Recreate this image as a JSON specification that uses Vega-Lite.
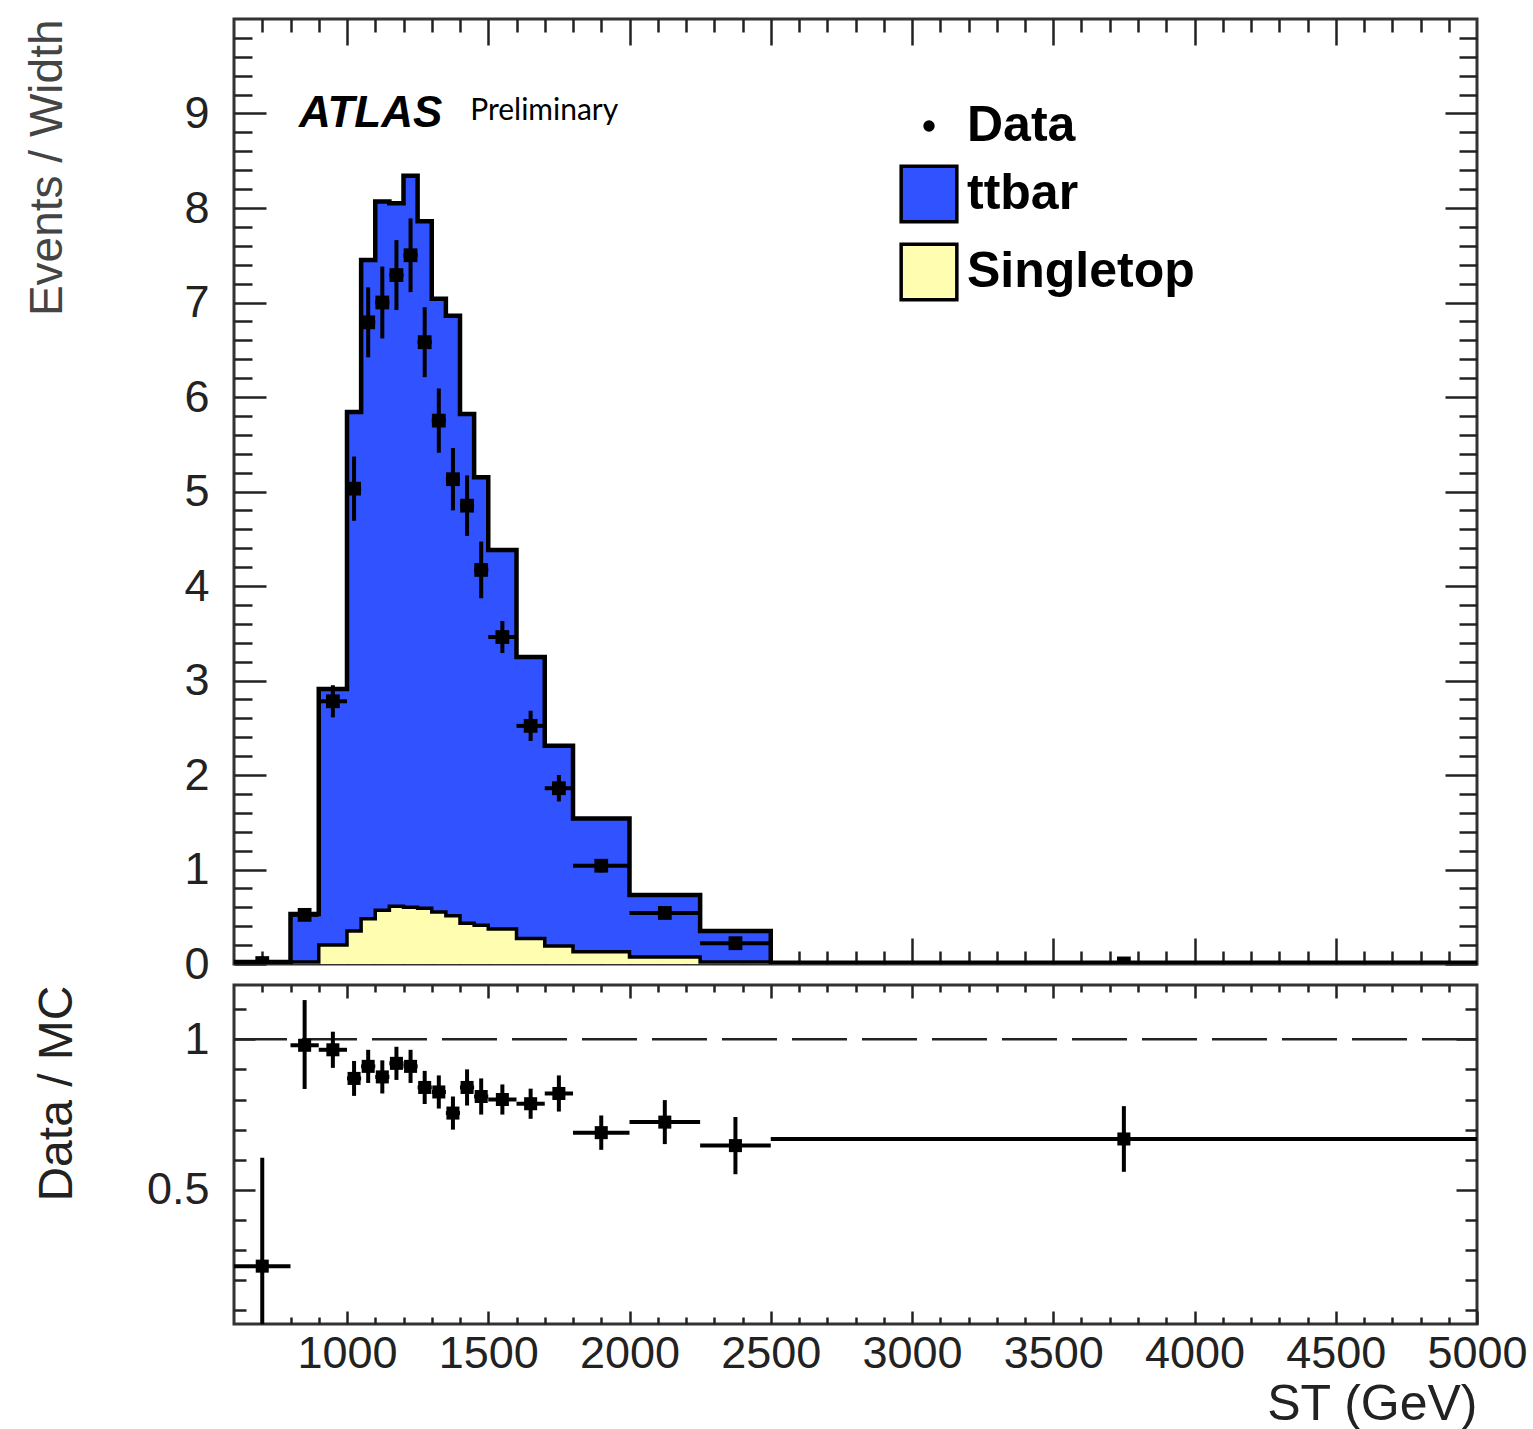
{
"$schema": "https://vega.github.io/schema/vega-lite/v6.json",
"background": "white",
"padding": {"left": 22, "top": 16, "right": 0, "bottom": 0},
"spacing": 21,
"bounds": "flush",
"config": {
  "view": {"stroke": "#333", "strokeWidth": 3},
  "font": "Liberation Sans",
  "axis": {"domain": false, "grid": false, "tickColor": "#222", "tickWidth": 2.5, "labelColor": "#222", "labelFont": "Liberation Sans", "labelFontSize": 45, "titleFont": "Liberation Sans", "titleFontWeight": "normal", "titleColor": "#333", "zindex": 1, "labelOverlap": false, "labelFlush": false}
},
"datasets": {
  "hist": [
    {"edge": 600, "stack_top": 0.02, "singletop": 0.0},
    {"edge": 800, "stack_top": 0.53, "singletop": 0.02},
    {"edge": 900, "stack_top": 2.91, "singletop": 0.20},
    {"edge": 1000, "stack_top": 5.84, "singletop": 0.35},
    {"edge": 1050, "stack_top": 7.45, "singletop": 0.48},
    {"edge": 1100, "stack_top": 8.07, "singletop": 0.57},
    {"edge": 1150, "stack_top": 8.05, "singletop": 0.61},
    {"edge": 1200, "stack_top": 8.34, "singletop": 0.60},
    {"edge": 1250, "stack_top": 7.86, "singletop": 0.59},
    {"edge": 1300, "stack_top": 7.04, "singletop": 0.55},
    {"edge": 1350, "stack_top": 6.86, "singletop": 0.51},
    {"edge": 1400, "stack_top": 5.82, "singletop": 0.43},
    {"edge": 1450, "stack_top": 5.15, "singletop": 0.41},
    {"edge": 1500, "stack_top": 4.38, "singletop": 0.37},
    {"edge": 1600, "stack_top": 3.25, "singletop": 0.27},
    {"edge": 1700, "stack_top": 2.31, "singletop": 0.19},
    {"edge": 1800, "stack_top": 1.54, "singletop": 0.13},
    {"edge": 2000, "stack_top": 0.73, "singletop": 0.074},
    {"edge": 2250, "stack_top": 0.35, "singletop": 0.02},
    {"edge": 2500, "stack_top": 0.012, "singletop": 0.003},
    {"edge": 5000, "stack_top": 0.012, "singletop": 0.003}
  ],
  "pts": [
    {"center": 700, "xlo": 600, "xhi": 800, "y": 0.01, "ylo": 0.0, "yhi": 0.08},
    {"center": 850, "xlo": 800, "xhi": 900, "y": 0.52, "ylo": 0.46, "yhi": 0.58},
    {"center": 950, "xlo": 900, "xhi": 1000, "y": 2.78, "ylo": 2.61, "yhi": 2.95},
    {"center": 1025, "xlo": 1000, "xhi": 1050, "y": 5.03, "ylo": 4.69, "yhi": 5.37},
    {"center": 1075, "xlo": 1050, "xhi": 1100, "y": 6.79, "ylo": 6.42, "yhi": 7.16},
    {"center": 1125, "xlo": 1100, "xhi": 1150, "y": 7.00, "ylo": 6.62, "yhi": 7.38},
    {"center": 1175, "xlo": 1150, "xhi": 1200, "y": 7.29, "ylo": 6.92, "yhi": 7.66},
    {"center": 1225, "xlo": 1200, "xhi": 1250, "y": 7.50, "ylo": 7.11, "yhi": 7.89},
    {"center": 1275, "xlo": 1250, "xhi": 1300, "y": 6.58, "ylo": 6.21, "yhi": 6.95},
    {"center": 1325, "xlo": 1300, "xhi": 1350, "y": 5.75, "ylo": 5.41, "yhi": 6.09},
    {"center": 1375, "xlo": 1350, "xhi": 1400, "y": 5.13, "ylo": 4.80, "yhi": 5.46},
    {"center": 1425, "xlo": 1400, "xhi": 1450, "y": 4.85, "ylo": 4.53, "yhi": 5.17},
    {"center": 1475, "xlo": 1450, "xhi": 1500, "y": 4.17, "ylo": 3.87, "yhi": 4.47},
    {"center": 1550, "xlo": 1500, "xhi": 1600, "y": 3.46, "ylo": 3.29, "yhi": 3.63},
    {"center": 1650, "xlo": 1600, "xhi": 1700, "y": 2.52, "ylo": 2.36, "yhi": 2.68},
    {"center": 1750, "xlo": 1700, "xhi": 1800, "y": 1.86, "ylo": 1.72, "yhi": 2.00},
    {"center": 1900, "xlo": 1800, "xhi": 2000, "y": 1.04, "ylo": 0.97, "yhi": 1.11},
    {"center": 2125, "xlo": 2000, "xhi": 2250, "y": 0.54, "ylo": 0.49, "yhi": 0.59},
    {"center": 2375, "xlo": 2250, "xhi": 2500, "y": 0.22, "ylo": 0.19, "yhi": 0.25},
    {"center": 3750, "xlo": 2500, "xhi": 5000, "y": 0.006, "ylo": 0.004, "yhi": 0.008}
  ],
  "ratio": [
    {"center": 700, "xlo": 600, "xhi": 800, "r": 0.247, "rlo": -0.11, "rhi": 0.607},
    {"center": 850, "xlo": 800, "xhi": 900, "r": 0.98, "rlo": 0.835, "rhi": 1.13},
    {"center": 950, "xlo": 900, "xhi": 1000, "r": 0.965, "rlo": 0.905, "rhi": 1.025},
    {"center": 1025, "xlo": 1000, "xhi": 1050, "r": 0.87, "rlo": 0.812, "rhi": 0.928},
    {"center": 1075, "xlo": 1050, "xhi": 1100, "r": 0.91, "rlo": 0.855, "rhi": 0.965},
    {"center": 1125, "xlo": 1100, "xhi": 1150, "r": 0.875, "rlo": 0.82, "rhi": 0.93},
    {"center": 1175, "xlo": 1150, "xhi": 1200, "r": 0.92, "rlo": 0.865, "rhi": 0.975},
    {"center": 1225, "xlo": 1200, "xhi": 1250, "r": 0.91, "rlo": 0.855, "rhi": 0.965},
    {"center": 1275, "xlo": 1250, "xhi": 1300, "r": 0.84, "rlo": 0.785, "rhi": 0.895},
    {"center": 1325, "xlo": 1300, "xhi": 1350, "r": 0.825, "rlo": 0.77, "rhi": 0.88},
    {"center": 1375, "xlo": 1350, "xhi": 1400, "r": 0.755, "rlo": 0.70, "rhi": 0.81},
    {"center": 1425, "xlo": 1400, "xhi": 1450, "r": 0.84, "rlo": 0.78, "rhi": 0.90},
    {"center": 1475, "xlo": 1450, "xhi": 1500, "r": 0.81, "rlo": 0.75, "rhi": 0.87},
    {"center": 1550, "xlo": 1500, "xhi": 1600, "r": 0.80, "rlo": 0.75, "rhi": 0.85},
    {"center": 1650, "xlo": 1600, "xhi": 1700, "r": 0.786, "rlo": 0.736, "rhi": 0.836},
    {"center": 1750, "xlo": 1700, "xhi": 1800, "r": 0.82, "rlo": 0.76, "rhi": 0.88},
    {"center": 1900, "xlo": 1800, "xhi": 2000, "r": 0.69, "rlo": 0.633, "rhi": 0.747},
    {"center": 2125, "xlo": 2000, "xhi": 2250, "r": 0.725, "rlo": 0.652, "rhi": 0.798},
    {"center": 2375, "xlo": 2250, "xhi": 2500, "r": 0.647, "rlo": 0.552, "rhi": 0.742},
    {"center": 3750, "xlo": 2500, "xhi": 5000, "r": 0.669, "rlo": 0.56, "rhi": 0.778}
  ],
  "ref": [{"level": 1}],
  "tags": [{"name": "ATLAS"}, {"name": "Preliminary"}]
},
"resolve": {"scale": {"color": "independent"}},
"vconcat": [
{
  "width": 1243, "height": 945,
  "resolve": {"axis": {"x": "independent", "y": "independent"}},
  "layer": [
    {
      "data": {"name": "hist"},
      "mark": {"type": "area", "interpolate": "step-after", "clip": true},
      "encoding": {
        "x": {"field": "edge", "type": "quantitative", "scale": {"domain": [600, 5000], "nice": false, "zero": false},
              "axis": {"orient": "bottom", "values": [1000, 1500, 2000, 2500, 3000, 3500, 4000, 4500], "labels": false, "tickSize": -26, "title": null}},
        "y": {"field": "stack_top", "type": "quantitative", "stack": null, "scale": {"domain": [0, 10], "nice": false},
              "axis": {"orient": "left", "values": [0, 1, 2, 3, 4, 5, 6, 7, 8, 9], "tickSize": -32, "labelPadding": 57, "title": "Events / Width", "titleFontSize": 46, "titleAnchor": "end", "titleX": -187, "titleBaseline": "middle", "titleAngle": -90, "titleColor": "#444"}},
        "color": {"datum": "ttbar", "type": "nominal",
                  "scale": {"domain": ["Data", "ttbar", "Singletop"], "range": ["black", "#3152FF", "#FFFDB0"]},
                  "legend": {"orient": "none", "legendX": 665, "legendY": 77, "title": null, "padding": 0, "rowPadding": 8,
                             "labelFont": "Liberation Sans", "labelFontSize": 50, "labelFontWeight": "bold", "labelColor": "black", "labelOffset": 8, "labelLimit": 500,
                             "symbolType": "square", "symbolSize": 3100, "symbolStrokeWidth": 3.5, "symbolStrokeColor": "black",
                             "encode": {"symbols": {"update": {
                               "shape": {"signal": "datum.value === 'Data' ? 'circle' : 'square'"},
                               "size": {"signal": "datum.value === 'Data' ? 130 : 3100"},
                               "stroke": {"signal": "datum.value === 'Data' ? 'transparent' : 'black'"},
                               "strokeWidth": {"value": 3.5},
                               "opacity": {"value": 1}
                             }}}}}
      }
    },
    {
      "data": {"name": "hist"},
      "mark": {"type": "area", "interpolate": "step-after", "clip": true},
      "encoding": {
        "x": {"field": "edge", "type": "quantitative", "scale": {"domain": [600, 5000], "nice": false, "zero": false},
              "axis": {"orient": "bottom", "values": [700,800,900,1100,1200,1300,1400,1600,1700,1800,1900,2100,2200,2300,2400,2600,2700,2800,2900,3100,3200,3300,3400,3600,3700,3800,3900,4100,4200,4300,4400,4600,4700,4800,4900], "labels": false, "tickSize": -13, "title": null}},
        "y": {"field": "singletop", "type": "quantitative", "stack": null, "scale": {"domain": [0, 10], "nice": false},
              "axis": {"orient": "left", "values": [0.2,0.4,0.6,0.8,1.2,1.4,1.6,1.8,2.2,2.4,2.6,2.8,3.2,3.4,3.6,3.8,4.2,4.4,4.6,4.8,5.2,5.4,5.6,5.8,6.2,6.4,6.6,6.8,7.2,7.4,7.6,7.8,8.2,8.4,8.6,8.8,9.2,9.4,9.6,9.8], "labels": false, "tickSize": -18, "title": null}},
        "color": {"datum": "Singletop", "type": "nominal",
                  "scale": {"domain": ["Data", "ttbar", "Singletop"], "range": ["black", "#3152FF", "#FFFDB0"]}}
      }
    },
    {
      "data": {"name": "hist"},
      "mark": {"type": "line", "interpolate": "step-after", "color": "black", "strokeWidth": 4.5, "strokeJoin": "miter", "clip": true},
      "encoding": {
        "x": {"field": "edge", "type": "quantitative", "scale": {"domain": [600, 5000], "nice": false, "zero": false},
              "axis": {"orient": "top", "values": [1000, 1500, 2000, 2500, 3000, 3500, 4000, 4500], "labels": false, "tickSize": -26, "title": null}},
        "y": {"field": "stack_top", "type": "quantitative", "scale": {"domain": [0, 10], "nice": false},
              "axis": {"orient": "right", "values": [0, 1, 2, 3, 4, 5, 6, 7, 8, 9], "labels": false, "tickSize": -32, "title": null}}
      }
    },
    {
      "data": {"name": "hist"},
      "mark": {"type": "line", "interpolate": "step-after", "color": "black", "strokeWidth": 3.5, "strokeJoin": "miter", "clip": true},
      "encoding": {
        "x": {"field": "edge", "type": "quantitative", "scale": {"domain": [600, 5000], "nice": false, "zero": false},
              "axis": {"orient": "top", "values": [700,800,900,1100,1200,1300,1400,1600,1700,1800,1900,2100,2200,2300,2400,2600,2700,2800,2900,3100,3200,3300,3400,3600,3700,3800,3900,4100,4200,4300,4400,4600,4700,4800,4900], "labels": false, "tickSize": -13, "title": null}},
        "y": {"field": "singletop", "type": "quantitative", "scale": {"domain": [0, 10], "nice": false},
              "axis": {"orient": "right", "values": [0.2,0.4,0.6,0.8,1.2,1.4,1.6,1.8,2.2,2.4,2.6,2.8,3.2,3.4,3.6,3.8,4.2,4.4,4.6,4.8,5.2,5.4,5.6,5.8,6.2,6.4,6.6,6.8,7.2,7.4,7.6,7.8,8.2,8.4,8.6,8.8,9.2,9.4,9.6,9.8], "labels": false, "tickSize": -18, "title": null}}
      }
    },
    {
      "data": {"name": "pts"},
      "mark": {"type": "rule", "color": "black", "strokeWidth": 4, "clip": true},
      "encoding": {
        "x": {"field": "center", "type": "quantitative", "axis": null},
        "y": {"field": "ylo", "type": "quantitative", "axis": null},
        "y2": {"field": "yhi"}
      }
    },
    {
      "data": {"name": "pts"},
      "mark": {"type": "rule", "color": "black", "strokeWidth": 4, "clip": true},
      "encoding": {
        "x": {"field": "xlo", "type": "quantitative", "axis": null},
        "x2": {"field": "xhi"},
        "y": {"field": "y", "type": "quantitative", "axis": null}
      }
    },
    {
      "data": {"name": "pts"},
      "mark": {"type": "point", "shape": "square", "filled": true, "size": 190, "opacity": 1, "clip": true},
      "encoding": {
        "x": {"field": "center", "type": "quantitative", "axis": null},
        "y": {"field": "y", "type": "quantitative", "axis": null},
        "color": {"datum": "Data", "type": "nominal",
                  "scale": {"domain": ["Data", "ttbar", "Singletop"], "range": ["black", "#3152FF", "#FFFDB0"]}}
      }
    },
    {
      "data": {"name": "tags"},
      "transform": [{"filter": "datum.name === 'ATLAS'"}],
      "mark": {"type": "text", "font": "Liberation Sans", "fontSize": 44, "fontWeight": "bold", "fontStyle": "italic", "align": "left", "baseline": "alphabetic", "color": "black"},
      "encoding": {
        "x": {"datum": 830, "type": "quantitative", "axis": null},
        "y": {"datum": 8.86, "type": "quantitative", "axis": null},
        "text": {"field": "name"}
      }
    },
    {
      "data": {"name": "tags"},
      "transform": [{"filter": "datum.name === 'Preliminary'"}],
      "mark": {"type": "text", "font": "Lato", "fontSize": 30, "align": "left", "baseline": "alphabetic", "color": "black"},
      "encoding": {
        "x": {"datum": 1436, "type": "quantitative", "axis": null},
        "y": {"datum": 8.93, "type": "quantitative", "axis": null},
        "text": {"field": "name"}
      }
    }
  ]
},
{
  "width": 1243, "height": 339,
  "resolve": {"axis": {"x": "independent", "y": "independent"}},
  "layer": [
    {
      "data": {"name": "ref"},
      "mark": {"type": "rule", "color": "#222", "strokeWidth": 2.5, "strokeDash": [55, 15]},
      "encoding": {
        "y": {"field": "level", "type": "quantitative", "scale": {"domain": [0.055, 1.18], "nice": false, "zero": false},
              "axis": {"orient": "left", "values": [0.5, 1], "format": "~g", "tickSize": -21, "labelPadding": 46, "title": "Data / MC", "titleFontSize": 48, "titleAnchor": "end", "titleX": -177, "titleBaseline": "middle", "titleAngle": -90, "titleColor": "#222"}}
      }
    },
    {
      "data": {"name": "ratio"},
      "mark": {"type": "rule", "color": "black", "strokeWidth": 4, "clip": true},
      "encoding": {
        "x": {"field": "center", "type": "quantitative", "scale": {"domain": [600, 5000], "nice": false, "zero": false},
              "axis": {"orient": "bottom", "values": [1000, 1500, 2000, 2500, 3000, 3500, 4000, 4500, 5000], "format": "d", "tickSize": -13, "labelPadding": 20, "labelOverlap": false, "labelFlush": false, "title": "ST (GeV)", "titleFontSize": 50, "titleAnchor": "end", "titlePadding": 3, "titleColor": "#222"}},
        "y": {"field": "rlo", "type": "quantitative", "scale": {"domain": [0.055, 1.18], "nice": false, "zero": false},
              "axis": {"orient": "left", "values": [0.1,0.2,0.3,0.4,0.6,0.7,0.8,0.9,1.1], "labels": false, "tickSize": -12, "title": null}},
        "y2": {"field": "rhi"}
      }
    },
    {
      "data": {"name": "ratio"},
      "mark": {"type": "rule", "color": "black", "strokeWidth": 4, "clip": true},
      "encoding": {
        "x": {"field": "xlo", "type": "quantitative", "scale": {"domain": [600, 5000], "nice": false, "zero": false},
              "axis": {"orient": "bottom", "values": [700,800,900,1100,1200,1300,1400,1600,1700,1800,1900,2100,2200,2300,2400,2600,2700,2800,2900,3100,3200,3300,3400,3600,3700,3800,3900,4100,4200,4300,4400,4600,4700,4800,4900], "labels": false, "tickSize": -7, "title": null}},
        "x2": {"field": "xhi"},
        "y": {"field": "r", "type": "quantitative", "scale": {"domain": [0.055, 1.18], "nice": false, "zero": false},
              "axis": {"orient": "right", "values": [0.5, 1], "labels": false, "tickSize": -21, "title": null}}
      }
    },
    {
      "data": {"name": "ratio"},
      "mark": {"type": "point", "shape": "square", "filled": true, "size": 170, "opacity": 1, "color": "black", "clip": true},
      "encoding": {
        "x": {"field": "center", "type": "quantitative", "scale": {"domain": [600, 5000], "nice": false, "zero": false},
              "axis": {"orient": "top", "values": [1000, 1500, 2000, 2500, 3000, 3500, 4000, 4500], "labels": false, "tickSize": -13, "title": null}},
        "y": {"field": "r", "type": "quantitative", "scale": {"domain": [0.055, 1.18], "nice": false, "zero": false},
              "axis": {"orient": "right", "values": [0.1,0.2,0.3,0.4,0.6,0.7,0.8,0.9,1.1], "labels": false, "tickSize": -12, "title": null}}
      }
    },
    {
      "data": {"name": "ratio"},
      "mark": {"type": "point", "opacity": 0},
      "encoding": {
        "x": {"field": "center", "type": "quantitative", "scale": {"domain": [600, 5000], "nice": false, "zero": false},
              "axis": {"orient": "top", "values": [700,800,900,1100,1200,1300,1400,1600,1700,1800,1900,2100,2200,2300,2400,2600,2700,2800,2900,3100,3200,3300,3400,3600,3700,3800,3900,4100,4200,4300,4400,4600,4700,4800,4900], "labels": false, "tickSize": -7, "title": null}},
        "y": {"field": "r", "type": "quantitative", "axis": null}
      }
    }
  ]
}
]
}
